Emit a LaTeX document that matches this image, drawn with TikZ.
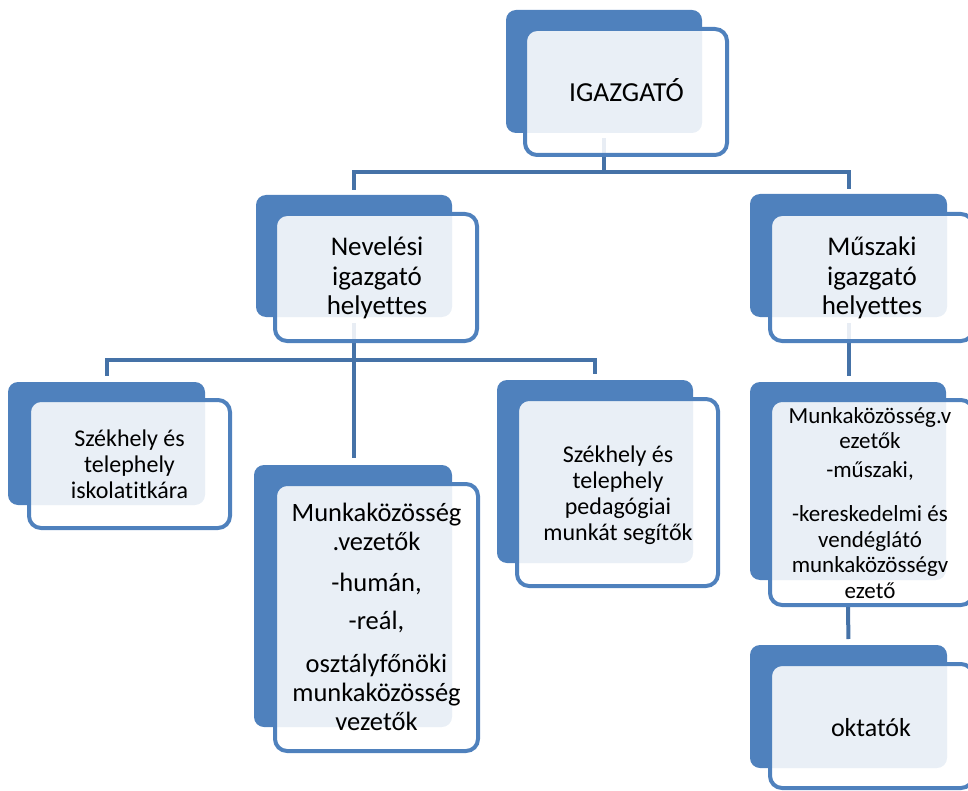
\documentclass[tikz,border=0pt]{standalone}
\usepackage{fontspec}
\setmainfont[Ligatures=NoCommon]{Carlito}
\usetikzlibrary{backgrounds}
\definecolor{bk}{HTML}{4F81BD}
\definecolor{cn}{HTML}{4572A7}
\begin{document}
\begin{tikzpicture}[x=1pt,y=-1pt,
 backbox/.style={fill=bk, draw=none, rounded corners=10pt, inner sep=0pt, outer sep=0pt},
 frontbox/.style={draw=bk, line width=4pt, fill=white, fill opacity=0.88, rounded corners=12pt, inner sep=0pt},
 conn/.style={draw=cn, line width=4pt},
 txt/.style={text=black, align=center, inner sep=0pt, anchor=base}]
\useasboundingbox (0,0) rectangle (968,791);
% IGAZGATO
\node[backbox, minimum width=196pt, minimum height=123pt] (igB) at (604,71.5) {};
\node[frontbox, minimum width=202pt, minimum height=126pt] (ig) at (626,92) {};
% Nevelesi
\node[backbox, minimum width=196pt, minimum height=122pt] (nevB) at (354,256) {};
\node[frontbox, minimum width=202pt, minimum height=127pt] (nev) at (376,277.5) {};
% Muszaki
\node[backbox, minimum width=197pt, minimum height=123pt] (musB) at (848.5,255.5) {};
\node[frontbox, minimum width=203pt, minimum height=127pt] (mus) at (871.5,277.5) {};
% Szekhely iskolatitkara
\node[backbox, minimum width=197pt, minimum height=123pt] (szB) at (106.5,443.5) {};
\node[frontbox, minimum width=201pt, minimum height=128pt] (sz) at (129.5,464) {};
% Munkakozosseg middle
\node[backbox, minimum width=198pt, minimum height=262pt] (mkB) at (353,596) {};
\node[frontbox, minimum width=203pt, minimum height=267pt] (mk) at (376.5,617.5) {};
% pedagogiai
\node[backbox, minimum width=196pt, minimum height=183pt] (pedB) at (595,471.5) {};
\node[frontbox, minimum width=201pt, minimum height=187pt] (ped) at (617.5,492.5) {};
% right Munkakozosseg
\node[backbox, minimum width=196pt, minimum height=198pt] (rmkB) at (848,481) {};
\node[frontbox, minimum width=203pt, minimum height=205pt] (rmk) at (871.5,502.5) {};
% oktatok
\node[backbox, minimum width=197pt, minimum height=123pt] (oktB) at (848.5,706.5) {};
\node[frontbox, minimum width=203pt, minimum height=124pt] (okt) at (871.5,726) {};

% texts (base anchor = baseline of last line)
\node[txt, font=\fontsize{27.5}{29.6}\selectfont] (igT) at (626.5,102) {IGAZGATÓ};
\node[txt, font=\fontsize{27}{29.5}\selectfont] (nevT) at (377,315) {Nevelési\\igazgató\\helyettes};
\node[txt, font=\fontsize{27}{29.5}\selectfont] (musT) at (872,315) {Műszaki\\igazgató\\helyettes};
\node[txt, font=\fontsize{24}{26}\selectfont] (szT) at (129.5,498) {Székhely és\\telephely\\iskolatitkára};
\node[txt, font=\fontsize{24}{26}\selectfont] (pedT) at (618,540) {Székhely és\\telephely\\pedagógiai\\munkát segítők};
\node[txt, font=\fontsize{26.5}{29}\selectfont] (mkT) at (376.5,730) {Munkaközösség\\.vezetők\\[12pt]-humán,\\[9pt]-reál,\\[14pt]osztályfőnöki\\munkaközösség\\vezetők};
\node[txt, font=\fontsize{23}{25.5}\selectfont] (rmkT) at (870,598) {Munkaközösség.v\\ezetők\\[3.5pt]-műszaki,\\[18.5pt]-kereskedelmi és\\vendéglátó\\munkaközösségv\\ezető};
\node[txt, font=\fontsize{26}{28.5}\selectfont] (oktT) at (871,736) {oktatók};

% connectors
\begin{scope}[on background layer]
\coordinate (bus1) at (604,172);
\coordinate (bus2) at (354,360);
\draw[conn, shorten <=5pt] (igB.south) -- (bus1);
\draw[conn, shorten >=5pt] (bus1) -| (nevB.north);
\draw[conn, shorten >=5pt] (bus1) -| (musB.north);
\draw[conn, shorten <=6pt, shorten >=7pt] (nevB.south) -- (nevB.south |- mkB.north);
\draw[conn, shorten >=6pt] (bus2) -| (szB.north);
\draw[conn, shorten >=6pt] (bus2) -| (pedB.north);
\draw[conn, shorten <=6pt, shorten >=6pt] (musB.south) -- (musB.south |- rmkB.north);
\draw[conn, shorten >=6pt] (rmkB.south |- rmk.south) -- (oktB.north);
\end{scope}
\end{tikzpicture}
\end{document}
